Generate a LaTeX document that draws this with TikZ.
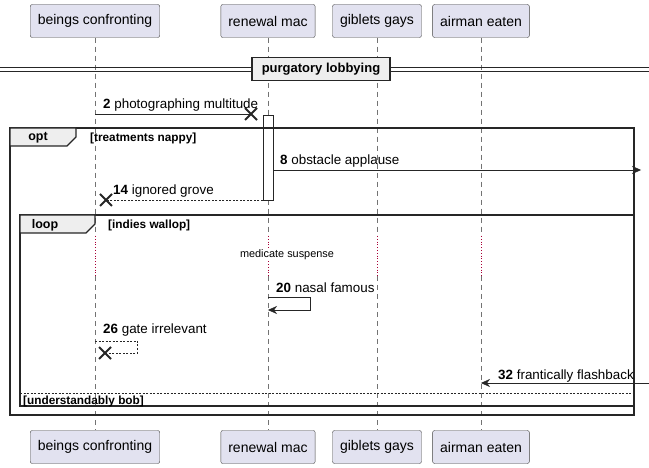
\documentclass[tikz,border=0pt]{standalone}
\usepackage{fontspec}
\setmainfont{Liberation Sans}
\usetikzlibrary{arrows.meta,calc}
\definecolor{partfill}{HTML}{E2E2F0}
\definecolor{tabfill}{HTML}{EEEEEE}
\definecolor{delaycol}{HTML}{A80036}

\begin{document}
\begin{tikzpicture}[x=1pt, y=-1pt,
  part/.style={draw=black!75, fill=partfill, rounded corners=2pt, minimum height=33pt, inner xsep=7.5pt, font=\fontsize{14}{16}\selectfont},
  life/.style={draw=black!55, dash pattern=on 5pt off 4pt},
  lifedelay/.style={draw=delaycol, dotted, thick},
  msg/.style={-{Stealth[length=9pt, width=8pt]}, draw=black!85},
  lbl/.style={anchor=base west, inner sep=0pt, font=\fontsize{13.4}{16}\selectfont},
  frm/.style={draw=black!85, line width=1.5pt},
  tab/.style={draw=black!85, fill=tabfill, line width=1.2pt},
  guard/.style={anchor=base west, inner sep=0pt, font=\bfseries\fontsize{11.8}{13}\selectfont},
  xmark/.style={line width=1.8pt, draw=black!85}]
\useasboundingbox (0,0) rectangle (649,468);
% participants
\node[part] (bc) at (95,21) {beings confronting};
\node[part] (rm) at (268,21) {renewal mac};
\node[part] (gg) at (377,21) {giblets gays};
\node[part] (ae) at (481,21) {airman eaten};
\node[part] (bc2) at (95,447) {beings confronting};
\node[part] (rm2) at (268,447) {renewal mac};
\node[part] (gg2) at (377,447) {giblets gays};
\node[part] (ae2) at (481,447) {airman eaten};
% lifelines, with the delay
\foreach \p in {bc,rm,gg,ae} {
  \coordinate (\p d1) at (\p.south |- 0,236);
  \coordinate (\p d2) at (\p.south |- 0,276);
  \draw[life] (\p.south) -- (\p d1);
  \draw[lifedelay] (\p d1) -- (\p d2);
  \draw[life] (\p d2) -- (\p2.north);
}
\node[font=\fontsize{10.9}{12}\selectfont, fill=white, inner sep=1pt] (delay) at (287,255) {medicate suspense};
% divider
\draw[black!85, line width=0.9pt] (0,67.5) -- (649,67.5);
\draw[black!85, line width=0.9pt] (0,71) -- (649,71);
\node[draw=black!85, line width=1.4pt, fill=tabfill, minimum width=138pt, minimum height=23pt, font=\bfseries\fontsize{13}{15}\selectfont] (div) at (321,69) {purgatory lobbying};
% activation
\node[draw=black!85, fill=white, minimum width=10pt, minimum height=85pt, inner sep=0pt] (act) at (268,157.5) {};
% opt frame
\draw[frm] (10,128) rectangle (634,415);
\draw[tab] (10,128) -- (76,128) -- (76,137) -- (67,146) -- (10,146) -- cycle;
\node[font=\bfseries\fontsize{12.5}{14}\selectfont] (opt) at (38,138) {opt};
\node[guard] (optg) at (90,142) {[treatments nappy]};
% loop frame
\draw[frm] (20,215) rectangle (634,406);
\draw[tab] (20,215) -- (95,215) -- (95,224) -- (86,233) -- (20,233) -- cycle;
\node[font=\bfseries\fontsize{12.5}{14}\selectfont] (loop) at (45,225) {loop};
\node[guard] (loopg) at (108,229) {[indies wallop]};
\draw[black!85, dash pattern=on 2pt off 1.5pt] (20,393) -- (634,393);
\node[guard] (elseg) at (23,404) {[understandably bob]};
% message 2
\coordinate (m2a) at (bc.south |- 0,114);
\coordinate (m2b) at (251,114);
\draw[black!85] (m2a) -- (m2b);
\draw[xmark] ($(m2b)+(-6,-6)$) -- ++(12,12) ($(m2b)+(-6,6)$) -- ++(12,-12);
\node[lbl] (l2) at (103,109) {\textbf{2} photographing multitude};
% message 8
\coordinate (m8a) at (act.east |- 0,170);
\coordinate (m8b) at (641,170);
\draw[msg] (m8a) -- (m8b);
\node[lbl] (l8) at (280,165) {\textbf{8} obstacle applause};
% message 14
\coordinate (m14a) at (act.west |- 0,200);
\coordinate (m14b) at (106,200);
\draw[black!85, dash pattern=on 2pt off 1.5pt] (m14a) -- (m14b);
\draw[xmark] ($(m14b)+(-6,-6)$) -- ++(12,12) ($(m14b)+(-6,6)$) -- ++(12,-12);
\node[lbl] (l14) at (113,195) {\textbf{14} ignored grove};
% message 20
\coordinate (m20a) at (rm.south |- 0,297);
\coordinate (m20b) at (rm.south |- 0,310);
\draw[msg] (m20a) -- ++(42,0) |- (m20b);
\node[lbl] (l20) at (276,293) {\textbf{20} nasal famous};
% message 26
\coordinate (m26a) at (bc.south |- 0,341);
\coordinate (m26b) at (105,353);
\draw[black!85, dash pattern=on 2pt off 1.5pt] (m26a) -- ++(42,0) |- (m26b);
\draw[xmark] ($(m26b)+(-6,-6)$) -- ++(12,12) ($(m26b)+(-6,6)$) -- ++(12,-12);
\node[lbl] (l26) at (103,334) {\textbf{26} gate irrelevant};
% message 32
\coordinate (m32a) at (649,383);
\coordinate (m32b) at (ae.south |- 0,383);
\draw[msg] (m32a) -- (m32b);
\node[lbl] (l32) at (498,379) {\textbf{32} frantically flashback};
\end{tikzpicture}
\end{document}
